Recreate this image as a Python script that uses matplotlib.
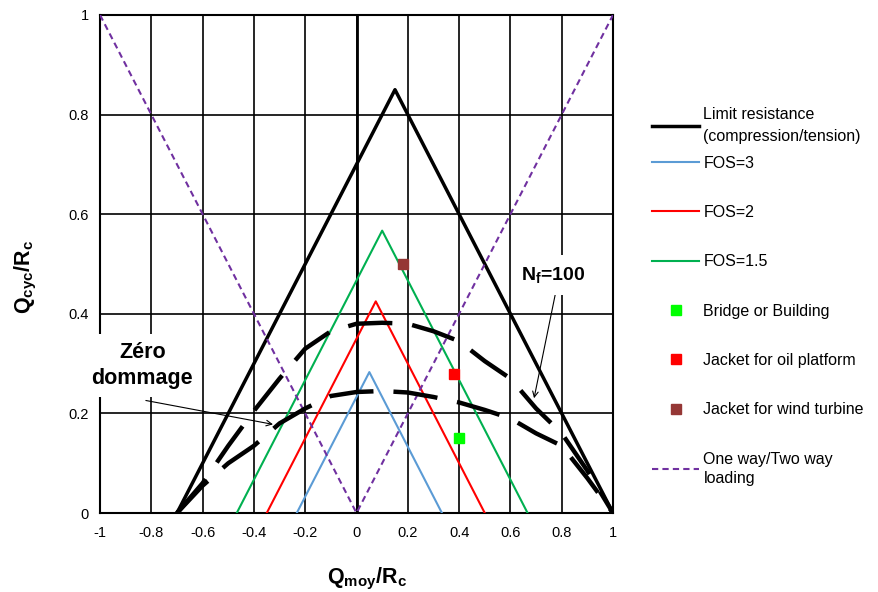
import numpy as np
import matplotlib
matplotlib.use("Agg")
import matplotlib.pyplot as plt

plt.rcParams['font.family'] = ['Liberation Sans', 'DejaVu Sans']
plt.rcParams['mathtext.default'] = 'regular'

# limit resistance (compression/tension) envelope
lim_x = [-0.7, 0.15, 1.0]
lim_y = [0.0, 0.85, 0.0]

# factor of safety envelopes
fos3_x = [-0.233, 0.05, 0.333]
fos3_y = [0.0, 0.283, 0.0]
fos2_x = [-0.35, 0.075, 0.5]
fos2_y = [0.0, 0.425, 0.0]
fos15_x = [-0.467, 0.1, 0.667]
fos15_y = [0.0, 0.567, 0.0]

# one way / two way loading
ow_x = [-1.0, 0.0, 1.0]
ow_y = [1.0, 0.0, 1.0]

# structures
bridge = (0.40, 0.15)
oil = (0.38, 0.28)
wind = (0.18, 0.50)

# Nf=100 contours (dashed)
nf_x = [-0.7, -0.6, -0.5, -0.4, -0.3, -0.2, -0.1, 0.0, 0.1, 0.2, 0.3, 0.4, 0.5, 0.6, 0.7, 0.8, 0.9, 1.0]
nf_up = [0.0, 0.06, 0.135, 0.205, 0.27, 0.33, 0.365, 0.38, 0.382, 0.38, 0.365, 0.345, 0.305, 0.27, 0.21, 0.16, 0.085, 0.0]
nf_lo = [0.0, 0.055, 0.10, 0.135, 0.18, 0.21, 0.235, 0.243, 0.245, 0.242, 0.233, 0.222, 0.207, 0.19, 0.16, 0.135, 0.07, 0.0]

xticks = [-1, -0.8, -0.6, -0.4, -0.2, 0, 0.2, 0.4, 0.6, 0.8, 1]
yticks = [0, 0.2, 0.4, 0.6, 0.8, 1]
xtick_labels = ['-1', '-0.8', '-0.6', '-0.4', '-0.2', '0', '0.2', '0.4', '0.6', '0.8', '1']
ytick_labels = ['0', '0.2', '0.4', '0.6', '0.8', '1']

fig = plt.figure(figsize=(8.79, 5.92), dpi=100)
ax = fig.add_axes([0.1138, 0.1334, 0.5836, 0.8413])

ax.set_xlim(-1, 1)
ax.set_ylim(0, 1)
ax.set_xticks(xticks)
ax.set_yticks(yticks)
ax.set_xticklabels(xtick_labels)
ax.set_yticklabels(ytick_labels)
ax.tick_params(length=0, labelsize=10.5, pad=8)
ax.tick_params(axis='x', pad=9)
ax.grid(True, color='black', lw=1.2, zorder=0)
ax.set_axisbelow(True)
ax.axvline(0, color='black', lw=2, zorder=1)
for s in ax.spines.values():
    s.set_linewidth(1.5)

l1, = ax.plot(lim_x, lim_y, color='black', lw=2.5, label='Limit resistance\n(compression/tension)', zorder=3)
l2, = ax.plot(fos3_x, fos3_y, color='#5B9BD5', lw=1.5, label='FOS=3', zorder=3)
l3, = ax.plot(fos2_x, fos2_y, color='#FF0000', lw=1.5, label='FOS=2', zorder=3)
l4, = ax.plot(fos15_x, fos15_y, color='#00B050', lw=1.5, label='FOS=1.5', zorder=3)
p1, = ax.plot([bridge[0]], [bridge[1]], 's', color='#00FF00', ms=7, ls='none', label='Bridge or Building', zorder=4)
p2, = ax.plot([oil[0]], [oil[1]], 's', color='#FF0000', ms=7, ls='none', label='Jacket for oil platform', zorder=4)
p3, = ax.plot([wind[0]], [wind[1]], 's', color='#953735', ms=7, ls='none', label='Jacket for wind turbine', zorder=4)
l5, = ax.plot(ow_x, ow_y, color='#7030A0', lw=1.5, ls=(0, (3, 2)), label='One way/Two way\nloading', zorder=3)

ax.plot(nf_x, nf_up, color='black', lw=3.2, ls=(0, (10, 4.5)), zorder=3)
ax.plot(nf_x, nf_lo, color='black', lw=3.2, ls=(0, (10, 4.5)), zorder=3)

ax.annotate('', xy=(-0.315, 0.177), xytext=(-0.832, 0.227),
            arrowprops=dict(arrowstyle='->', color='black', lw=0.8), zorder=4)
ax.text(-0.835, 0.296, 'Zéro\ndommage', ha='center', va='center', fontsize=15.5,
        fontweight='bold', linespacing=1.3, zorder=6, clip_on=False,
        bbox=dict(facecolor='white', edgecolor='none', pad=6))

ax.annotate('', xy=(0.69, 0.225), xytext=(0.78, 0.452),
            arrowprops=dict(arrowstyle='->', color='black', lw=0.8), zorder=4)
ax.text(0.766, 0.478, r'N$_{f}$=100', ha='center', va='center', fontsize=14,
        fontweight='bold', zorder=6,
        bbox=dict(facecolor='white', edgecolor='none', pad=7))

ax.set_xlabel(r'Q$_{moy}$/R$_{c}$', fontsize=15.5, fontweight='bold')
ax.xaxis.set_label_coords(0.52, -0.106)
ax.set_ylabel(r'Q$_{cyc}$/R$_{c}$', fontsize=15.5, fontweight='bold')
ax.yaxis.set_label_coords(-0.118, 0.475)

leg_kw = dict(loc='upper left', frameon=False, fontsize=11.5, handlelength=3.0,
              handletextpad=0.25, numpoints=1, borderaxespad=0)
leg1 = fig.legend(handles=[l1], bbox_to_anchor=(0.734, 0.830), **leg_kw)
for t in leg1.get_texts():
    t.set_linespacing(1.6)
leg2 = fig.legend(handles=[l2, l3, l4, p1, p2, p3, l5], bbox_to_anchor=(0.734, 0.748),
                  labelspacing=2.15, **leg_kw)
for t in leg2.get_texts():
    t.set_linespacing(1.4)

fig.savefig('out.png', dpi=100)
